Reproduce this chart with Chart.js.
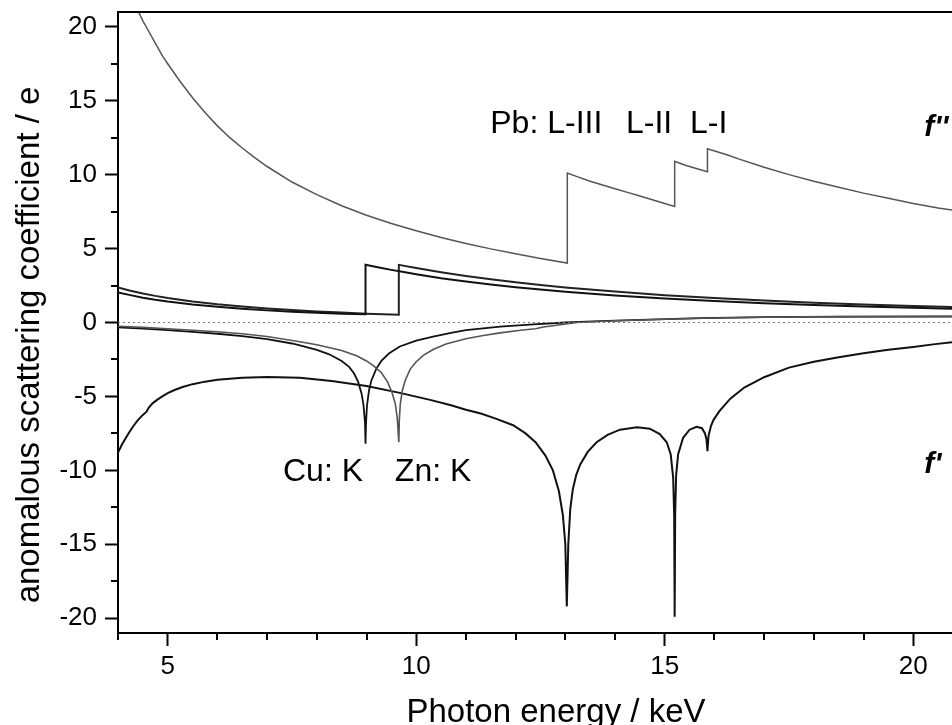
<!DOCTYPE html>
<html>
<head>
<meta charset="utf-8">
<script src="https://cdn.jsdelivr.net/npm/chart.js@4.4.1/dist/chart.umd.min.js"></script>
<style>
html, body { margin: 0; padding: 0; background: #fff; }
#wrap { width: 952px; height: 725px; position: relative; }
</style>
</head>
<body>
<div id="wrap"><canvas id="chart"></canvas></div>
<script>
// photon energy (keV) / anomalous scattering coefficient (e)
var pbFppE = [4.3, 4.4, 4.5, 4.6, 4.75, 4.9, 5.0, 5.25, 5.5, 5.75, 6.0, 6.25, 6.5, 6.75, 7.0, 7.5, 8.0, 8.5, 9.0, 9.5, 10.0, 10.5, 11.0, 11.5, 12.0, 12.5, 13.04,
              13.04, 13.25, 13.5, 13.75, 14.0, 14.25, 14.5, 14.75, 15.0, 15.2,
              15.2, 15.4, 15.6, 15.86,
              15.86, 16.25, 16.5, 17.0, 17.5, 18.0, 18.5, 19.0, 19.5, 20.0, 20.5, 20.8];
var pbFppV = [21.8, 21.1, 20.4, 19.8, 18.9, 18.0, 17.5, 16.3, 15.2, 14.2, 13.3, 12.5, 11.8, 11.15, 10.55, 9.5, 8.65, 7.9, 7.25, 6.7, 6.2, 5.75, 5.35, 4.98, 4.65, 4.33, 4.02,
              10.1, 9.85, 9.55, 9.3, 9.05, 8.8, 8.55, 8.3, 8.05, 7.85,
              10.9, 10.65, 10.45, 10.2,
              11.75, 11.35, 11.05, 10.5, 10.0, 9.55, 9.15, 8.75, 8.4, 8.05, 7.75, 7.6];

var cuFppE = [4.0, 4.25, 4.5, 4.75, 5.0, 5.5, 6.0, 6.5, 7.0, 7.5, 8.0, 8.5, 8.98,
              8.98, 9.25, 9.5, 9.75, 10.0, 10.5, 11.0, 11.5, 12.0, 12.5, 13.0, 14.0, 15.0, 16.0, 17.0, 18.0, 19.0, 20.0, 20.8];
var cuFppV = [2.03, 1.85, 1.68, 1.54, 1.42, 1.22, 1.06, 0.93, 0.82, 0.73, 0.66, 0.6, 0.56,
              3.9, 3.72, 3.56, 3.41, 3.27, 3.0, 2.77, 2.57, 2.39, 2.23, 2.08, 1.83, 1.62, 1.45, 1.31, 1.19, 1.08, 0.99, 0.93];

var znFppE = [4.0, 4.25, 4.5, 4.75, 5.0, 5.5, 6.0, 6.5, 7.0, 7.5, 8.0, 8.5, 9.0, 9.65,
              9.65, 10.0, 10.5, 11.0, 11.5, 12.0, 12.5, 13.0, 14.0, 15.0, 16.0, 17.0, 18.0, 19.0, 20.0, 20.8];
var znFppV = [2.37, 2.15, 1.96, 1.8, 1.66, 1.42, 1.23, 1.08, 0.95, 0.84, 0.75, 0.67, 0.6, 0.52,
              3.9, 3.68, 3.4, 3.15, 2.92, 2.72, 2.54, 2.37, 2.09, 1.85, 1.65, 1.48, 1.34, 1.22, 1.11, 1.04];

var cuFpE = [4.0, 4.5, 5.0, 5.5, 6.0, 6.5, 7.0, 7.5, 7.66, 8.0, 8.25, 8.5, 8.65, 8.75, 8.83, 8.9, 8.94, 8.97, 8.98,
             8.99, 9.01, 9.05, 9.1, 9.2, 9.3, 9.45, 9.67, 10.0, 10.34, 10.7, 11.0, 11.69, 12.36, 13.0, 13.7, 14.5, 15.7, 17.0, 18.5, 20.8];
var cuFpV = [-0.33, -0.42, -0.52, -0.63, -0.76, -0.92, -1.12, -1.42, -1.55, -1.85, -2.15, -2.6, -3.0, -3.45, -4.0, -4.8, -5.6, -6.8, -8.2,
             -6.8, -5.6, -4.6, -3.9, -3.1, -2.6, -2.1, -1.62, -1.22, -0.95, -0.7, -0.52, -0.28, -0.12, 0.0, 0.09, 0.18, 0.3, 0.37, 0.4, 0.42];

var znFpE = [4.0, 4.5, 5.0, 5.5, 6.0, 6.5, 7.0, 7.66, 8.0, 8.5, 8.8, 9.0, 9.15, 9.3, 9.42, 9.51, 9.58, 9.62, 9.65,
             9.66, 9.68, 9.72, 9.78, 9.88, 10.0, 10.15, 10.34, 10.6, 11.0, 11.35, 11.69, 12.1, 12.4, 12.56, 12.9, 13.23, 14.0, 15.0, 16.0, 17.0, 18.0, 20.8];
var znFpV = [-0.25, -0.33, -0.42, -0.52, -0.63, -0.76, -0.95, -1.3, -1.5, -1.9, -2.25, -2.6, -2.95, -3.4, -4.0, -4.7, -5.5, -6.5, -8.1,
             -6.6, -5.5, -4.6, -3.9, -3.15, -2.65, -2.2, -1.83, -1.45, -1.1, -0.88, -0.7, -0.52, -0.42, -0.3, -0.15, 0.0, 0.12, 0.22, 0.3, 0.35, 0.38, 0.4];

var pbFpE = [4.0, 4.08, 4.15, 4.23, 4.31, 4.4, 4.5, 4.57, 4.62, 4.7, 4.8, 4.9, 5.0, 5.15, 5.3, 5.5, 5.75, 6.0, 6.5, 7.0, 7.66, 8.3, 9.0, 9.67, 10.3, 10.7, 11.0,
             11.3, 11.6, 11.95, 12.2, 12.4, 12.6, 12.75, 12.87, 12.95, 13.0, 13.03,
             13.06, 13.1, 13.15, 13.22, 13.3, 13.45, 13.63, 13.85, 14.1, 14.44, 14.7, 14.9, 15.04, 15.12, 15.17, 15.19, 15.2,
             15.21, 15.23, 15.27, 15.37, 15.5, 15.64, 15.75, 15.81, 15.84, 15.86,
             15.88, 15.93, 15.98, 16.1, 16.32, 16.6, 17.0, 17.5, 18.0, 18.5, 19.0, 19.5, 20.0, 20.4, 20.8];
var pbFpV = [-8.8, -8.25, -7.85, -7.4, -7.0, -6.6, -6.25, -6.05, -5.75, -5.45, -5.2, -4.98, -4.78, -4.55, -4.36, -4.17, -4.0, -3.88, -3.74, -3.69, -3.74, -3.95, -4.3, -4.76, -5.25, -5.6, -5.9,
             -6.15, -6.5, -6.95, -7.5, -8.1, -9.0, -10.0, -11.4, -13.0, -15.0, -19.2,
             -15.0, -12.6, -11.3, -10.3, -9.6, -8.75, -8.1, -7.6, -7.25, -7.08, -7.18, -7.55, -8.1, -8.9, -10.5, -13.0, -19.9,
             -13.0, -10.3, -8.9, -7.8, -7.25, -7.05, -7.15, -7.5, -7.9, -8.7,
             -7.7, -7.0, -6.6, -6.0, -5.15, -4.4, -3.7, -3.05, -2.65, -2.35, -2.08, -1.85, -1.65, -1.48, -1.32];

var zeroE = [4.0, 20.8];
var zeroV = [0, 0];

var xMinorTicks = [4, 6, 7, 8, 9, 11, 12, 13, 14, 16, 17, 18, 19];
var yMinorTicks = [-17.5, -12.5, -7.5, -2.5, 2.5, 7.5, 12.5, 17.5];

var notes = [
    { text: 'Pb: L-III', x: 11.49, y: 12.8, font: '32px' },
    { text: 'L-II', x: 14.22, y: 12.8, font: '32px' },
    { text: 'L-I', x: 15.51, y: 12.8, font: '32px' },
    { text: "f''", x: 20.22, y: 12.58, font: 'italic bold 30px' },
    { text: "f'", x: 20.22, y: -10.15, font: 'italic bold 30px' },
    { text: 'Cu: K', x: 7.32, y: -10.69, font: '32px' },
    { text: 'Zn: K', x: 9.57, y: -10.69, font: '32px' }
];

var xTitle = 'Photon energy / keV';
var yTitle = 'anomalous scattering coefficient / e';

var FAMILY = '"Liberation Sans", Arial, sans-serif';

function pts(xs, ys) {
    return xs.map(function (v, i) { return { x: v, y: ys[i] }; });
}

function series(xs, ys, color, width, dash) {
    return {
        data: pts(xs, ys),
        borderColor: color,
        borderWidth: width,
        borderDash: dash || [],
        pointRadius: 0,
        tension: 0,
        fill: false
    };
}

var extras = {
    id: 'extras',
    afterDraw: function (chart) {
        var c = chart.ctx, a = chart.chartArea;
        var sx = chart.scales.x, sy = chart.scales.y;
        c.save();
        c.strokeStyle = '#000';
        c.lineWidth = 2;
        c.beginPath();
        c.moveTo(a.left - 1, a.top);
        c.lineTo(a.right, a.top);
        xMinorTicks.forEach(function (v) {
            var px = Math.round(sx.getPixelForValue(v));
            c.moveTo(px, a.bottom);
            c.lineTo(px, a.bottom + 7);
        });
        yMinorTicks.forEach(function (v) {
            var py = Math.round(sy.getPixelForValue(v));
            c.moveTo(a.left, py);
            c.lineTo(a.left - 7, py);
        });
        c.stroke();
        c.fillStyle = '#000';
        c.textAlign = 'left';
        c.textBaseline = 'alphabetic';
        notes.forEach(function (n) {
            c.font = n.font + ' ' + FAMILY;
            c.fillText(n.text, sx.getPixelForValue(n.x), sy.getPixelForValue(n.y));
        });
        // axis titles
        c.textAlign = 'center';
        c.font = '33px ' + FAMILY;
        c.fillText(xTitle, 556, 722);
        c.translate(39, 345);
        c.rotate(-Math.PI / 2);
        c.fillText(yTitle, 0, 0);
        c.restore();
    }
};

document.addEventListener("DOMContentLoaded", function () {
    var ctx = document.getElementById('chart').getContext('2d');
    var data = {
        datasets: [
            series(zeroE, zeroV, '#777', 1, [2, 3]),
            series(pbFppE, pbFppV, '#555', 1.5),
            series(cuFppE, cuFppV, '#111', 2),
            series(znFppE, znFppV, '#222', 2),
            series(znFpE, znFpV, '#555', 1.6),
            series(cuFpE, cuFpV, '#111', 1.8),
            series(pbFpE, pbFpV, '#111', 2)
        ]
    };
    var tickColor = function (c) { return (c.tick && c.tick.value % 5 === 0) ? '#000' : 'rgba(0,0,0,0)'; };
    var options = {
        responsive: true,
        maintainAspectRatio: false,
        animation: false,
        layout: { padding: { top: 12, right: 0, bottom: 0, left: 0 } },
        plugins: { legend: { display: false }, tooltip: { enabled: false } },
        scales: {
            x: {
                type: 'linear',
                min: 4,
                max: 20.78,
                border: { color: '#000', width: 2 },
                grid: { drawOnChartArea: false, tickLength: 13, tickWidth: 2, tickColor: tickColor },
                ticks: {
                    stepSize: 1,
                    includeBounds: false,
                    autoSkip: false,
                    maxRotation: 0,
                    padding: 5,
                    color: '#000',
                    font: { family: FAMILY, size: 26 },
                    callback: function (v) { return v % 5 === 0 ? v : ''; }
                },
                afterFit: function (s) {
                    s.height = 92;
                    s.paddingLeft = 0;
                    s.paddingRight = 0;
                }
            },
            y: {
                min: -21,
                max: 21,
                border: { color: '#000', width: 2 },
                grid: { drawOnChartArea: false, tickLength: 13, tickWidth: 2, tickColor: tickColor },
                ticks: {
                    stepSize: 2.5,
                    includeBounds: false,
                    autoSkip: false,
                    padding: 8,
                    color: '#000',
                    font: { family: FAMILY, size: 26 },
                    callback: function (v) { return v % 5 === 0 ? v : ''; }
                },
                afterFit: function (s) {
                    s.width = 118;
                    s.paddingTop = 0;
                    s.paddingBottom = 0;
                }
            }
        }
    };
    new Chart(ctx, {
        type: 'line',
        data: data,
        options: options,
        plugins: [extras]
    });
});
</script>
</body>
</html>
